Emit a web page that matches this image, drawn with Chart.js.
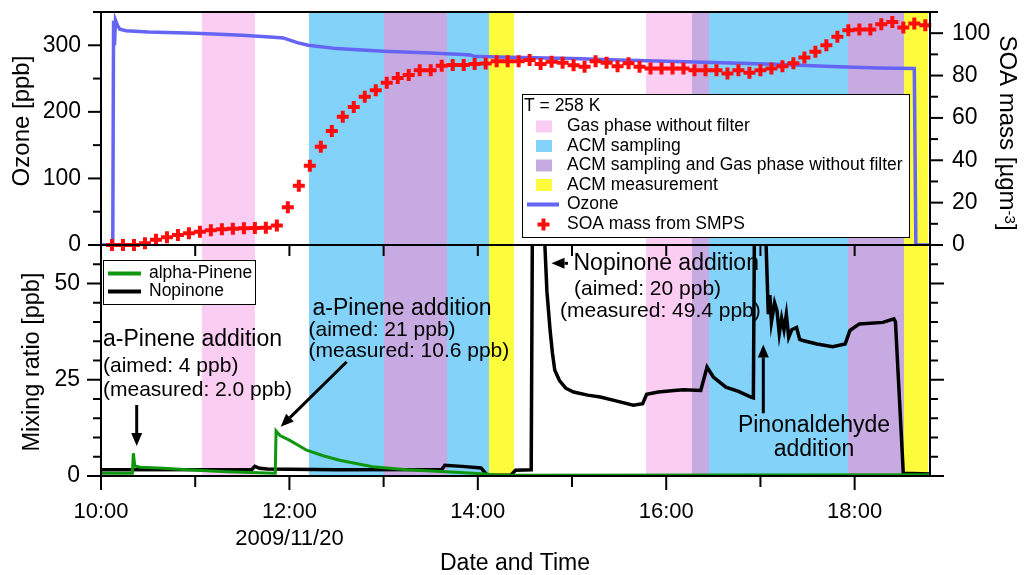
<!DOCTYPE html>
<html lang="en">
<head>
<meta charset="UTF-8">
<title>Ozone, SOA mass and mixing ratios - 2009/11/20</title>
<style>
  * { margin: 0; padding: 0; }
  body { background: #fff; width: 1030px; height: 575px; position: relative; overflow: hidden; }
  #top { position: absolute; left: 0; top: 0; }
  #bottom { position: absolute; left: 0; top: 240px; }
</style>
</head>
<body>
<canvas id="top" width="1030" height="260"></canvas>
<canvas id="bottom" width="1030" height="335"></canvas>
<script src="https://cdn.jsdelivr.net/npm/chart.js@4.4.0/dist/chart.umd.min.js"></script>
<script>
// shaded sampling periods
const bandStart = ['11:04.5', '12:12.5', '13:00', '13:40.5', '14:07', '15:47', '16:16.5', '16:27.5', '17:56', '18:31.5'];
const bandEnd   = ['11:38', '13:00', '13:40.5', '14:07', '14:23', '16:16.5', '16:27.5', '17:56', '18:31.5', '18:46.5'];
const bandKind  = ['gas', 'acm', 'both', 'acm', 'meas', 'gas', 'both', 'acm', 'both', 'meas'];

// ozone [ppb]
const ozoneTime = ['10:00', '10:07.5', '10:08', '10:08.6', '10:09.2', '10:10.5', '10:12', '10:16', '10:30', '11:00', '11:30', '11:50', '11:56',
  '12:05', '12:12', '12:30', '13:00', '13:30', '13:50', '13:55', '13:58', '14:00', '14:20', '15:00', '15:30', '16:00', '16:30',
  '17:14', '17:45', '18:15', '18:38', '18:39', '18:48'];
const ozoneVal = [0, 0, 337, 300, 338, 330, 324, 322, 320, 318, 315, 312, 311,
  304, 300, 295, 291, 288.5, 286, 285.5, 283, 283, 282, 280, 278, 276, 274,
  271, 268, 266, 265, 0, 0];

// SOA mass from SMPS [ugm-3]
const soaTime = ['10:07', '10:14', '10:21', '10:28', '10:35', '10:42', '10:49', '10:56', '11:03', '11:10', '11:17', '11:24', '11:31',
  '11:38', '11:45', '11:52', '11:59', '12:06', '12:13', '12:20', '12:27', '12:34', '12:41', '12:48', '12:55', '13:02', '13:09',
  '13:16', '13:23', '13:30', '13:37', '13:44', '13:51', '13:58', '14:05', '14:12', '14:19', '14:26', '14:33', '14:40', '14:47',
  '14:54', '15:01', '15:08', '15:15', '15:22', '15:29', '15:36', '15:43', '15:50', '15:57', '16:04', '16:11', '16:18', '16:25',
  '16:32', '16:39', '16:46', '16:53', '17:00', '17:07', '17:14', '17:21', '17:28', '17:35', '17:42', '17:49', '17:56', '18:03',
  '18:10', '18:17', '18:24', '18:31', '18:38', '18:45'];
const soaVal = [0, 0, 0, 0.8, 2.5, 3.6, 4.7, 5.5, 6.3, 7.0, 7.4, 7.7, 7.9,
  8.0, 8.2, 9.2, 17.8, 28, 37.4, 46.4, 53.8, 60.5, 65.2, 70, 73.1, 76.6, 78.9,
  80.2, 82.5, 82.5, 84.6, 85, 85, 85.4, 85.7, 86.8, 86.8, 86.8, 87.3, 85.4, 86.5,
  86, 84.9, 84.1, 86.8, 86, 84.4, 85.8, 84.1, 83.3, 83.3, 83.3, 83.3, 82.5, 82.5,
  82.5, 81, 82.5, 81.3, 82.5, 83.3, 84.4, 85.8, 88.5, 91.2, 94.3, 98.3, 101.4, 101.7,
  101.7, 104.2, 105.3, 102.7, 104.6, 103.8];

// alpha-pinene [ppb]
const pineneTime = ['10:00', '10:20', '10:20.6', '10:21.5', '10:25', '10:40', '10:55', '11:20', '11:45', '11:51', '11:51.5', '11:54',
  '12:00', '12:11', '12:22', '12:32', '12:53', '13:15', '13:46', '14:05', '14:12', '18:48'];
const pineneVal = [0.7, 0.7, 5.9, 2.6, 2.3, 2.0, 1.6, 1.1, 0.8, 0.7, 11.7, 10.5,
  9.3, 6.7, 5.2, 4.1, 2.4, 1.6, 0.95, 0.5, 0.2, 0.3];

// nopinone [ppb]
const nopTime = ['10:00', '11:36', '11:38', '11:41', '11:46', '12:30', '13:37', '13:39', '13:50', '14:02', '14:06', '14:21', '14:24',
  '14:34', '14:35', '14:41', '14:42.5', '14:44', '14:46', '14:47.5', '14:49', '14:52', '14:56', '15:01', '15:10', '15:18', '15:28',
  '15:39', '15:45', '15:47.5', '15:55', '16:05', '16:11', '16:22', '16:26', '16:30', '16:38', '16:46', '16:54', '16:55.5', '16:56.5',
  '17:02', '17:04', '17:05', '17:06', '17:07', '17:09', '17:10.5', '17:12', '17:13.5', '17:15', '17:16.5', '17:18', '17:20', '17:23',
  '17:25', '17:27', '17:36', '17:46', '17:54', '17:57', '18:03', '18:18', '18:25', '18:26', '18:31', '18:48'];
const nopVal = [1.6, 1.7, 2.5, 2.0, 1.8, 1.6, 1.7, 2.8, 2.5, 2.1, 0.2, 0.2, 1.5,
  1.6, 85, 80, 62, 48, 38, 32, 27.5, 24.8, 22.8, 21.8, 21, 20.5, 19.5,
  18.4, 18.8, 21.2, 21.8, 22.2, 22.4, 22.2, 28.3, 25.7, 23.1, 22, 20.5, 20.3, 85,
  80, 55, 42, 47, 40, 45, 43, 37, 41, 38, 42, 36, 38, 38.6,
  35.5, 35.2, 34.3, 33.6, 34.3, 37.8, 39.5, 39.9, 40.8, 40, 0.7, 0.5];

const legendNames = ['Gas phase without filter', 'ACM sampling', 'ACM sampling and Gas phase without filter', 'ACM measurement'];
const legendKinds = ['gas', 'acm', 'both', 'meas'];
const dateLabel = '2009/11/20';

const bandColor = { gas: '#FCCDF2', acm: '#82D2FA', both: '#C8AAE2', meas: '#FCFC3C' };
const OZONE = '#6565F5', SOA = '#FF0C0C', GREEN = '#0E960E';
const FONT = '"Liberation Sans", Arial, sans-serif';

Chart.defaults.font.family = FONT;
Chart.defaults.color = '#000';

const toH = s => { const p = s.split(':'); return +p[0] + parseFloat(p[1]) / 60; };
const pts = (t, v) => t.map((s, i) => ({ x: toH(s), y: v[i] }));

// keep axis boxes at fixed sizes, no label overhang padding
const fixY = w => s => { s.width = w; s.paddingTop = 0; s.paddingBottom = 0; };
const fixX = h => s => { s.height = h; s.paddingLeft = 0; s.paddingRight = 0; };

function line(ctx, x1, y1, x2, y2) {
  ctx.beginPath(); ctx.moveTo(x1, y1); ctx.lineTo(x2, y2); ctx.stroke();
}
function text(ctx, str, x, y, size, align) {
  ctx.font = size + 'px ' + FONT;
  ctx.textAlign = align || 'left';
  ctx.textBaseline = 'middle';
  ctx.fillText(str, x, y);
}
function arrow(ctx, x1, y1, x2, y2) {
  const a = Math.atan2(y2 - y1, x2 - x1), hl = 13, hw = 5.5;
  const bx = x2 - hl * Math.cos(a), by = y2 - hl * Math.sin(a);
  line(ctx, x1, y1, bx, by);
  ctx.beginPath();
  ctx.moveTo(x2, y2);
  ctx.lineTo(bx + hw * Math.sin(a), by - hw * Math.cos(a));
  ctx.lineTo(bx - hw * Math.sin(a), by + hw * Math.cos(a));
  ctx.closePath(); ctx.fill();
}

const bandsPlugin = {
  id: 'bands',
  beforeDatasetsDraw(chart) {
    const { ctx, chartArea: a, scales: { x } } = chart;
    ctx.save();
    bandStart.forEach((s, i) => {
      const x1 = Math.round(x.getPixelForValue(toH(s)));
      const x2 = Math.round(x.getPixelForValue(toH(bandEnd[i])));
      ctx.fillStyle = bandColor[bandKind[i]];
      ctx.fillRect(x1, a.top, x2 - x1, a.bottom - a.top);
    });
    ctx.restore();
  }
};

const baseOpts = {
  responsive: false,
  animation: false,
  events: [],
  plugins: { legend: { display: false }, tooltip: { enabled: false } },
  elements: { point: { radius: 0 }, line: { tension: 0 } }
};

// ---- upper panel: ozone and SOA mass
new Chart(document.getElementById('top'), {
  type: 'line',
  data: {
    datasets: [
      { data: pts(soaTime, soaVal), yAxisID: 'yS', showLine: false, pointStyle: 'cross',
        pointRadius: 6, borderColor: SOA, pointBorderWidth: 4, clip: false },
      { data: pts(ozoneTime, ozoneVal), yAxisID: 'yO', borderColor: OZONE, borderWidth: 3.5 }
    ]
  },
  options: {
    ...baseOpts,
    layout: { padding: { top: 12, bottom: 15, left: 0, right: 0 } },
    scales: {
      x: { type: 'linear', min: 10, max: 18.8, display: false },
      yO: {
        position: 'left', min: 0, max: 350,
        ticks: { stepSize: 50, autoSkip: false, padding: 7, font: { size: 23 }, callback: v => v % 100 === 0 ? v : '' },
        grid: { display: false, tickLength: 13 }, border: { display: false },
        afterFit: fixY(101)
      },
      yS: {
        position: 'right', min: 0, max: 110,
        ticks: { stepSize: 10, autoSkip: false, padding: 9, font: { size: 23 }, callback: v => v % 20 === 0 ? v : '' },
        grid: { display: false, tickLength: 13 }, border: { display: false },
        afterFit: fixY(100)
      }
    }
  },
  plugins: [bandsPlugin, {
    id: 'topFrame',
    afterDatasetsDraw(chart) {
      const { ctx, chartArea: a, scales: { yO, yS } } = chart;
      ctx.save();
      ctx.strokeStyle = '#000'; ctx.lineWidth = 2;
      ctx.strokeRect(a.left, a.top, a.right - a.left, a.bottom - a.top);
      for (let v = 0; v <= 350; v += 50) {
        const y = yO.getPixelForValue(v);
        line(ctx, a.left, y, a.left - (v % 100 ? 8 : 13), y);
      }
      for (let v = 0; v <= 110; v += 10) {
        const y = yS.getPixelForValue(v);
        line(ctx, a.right, y, a.right + (v % 20 ? 8 : 13), y);
      }
      ctx.restore();
    },
    afterDraw(chart) {
      const ctx = chart.ctx;
      ctx.save();
      ctx.fillStyle = '#000';
      // axis titles
      ctx.save();
      ctx.translate(28.5, 121); ctx.rotate(-Math.PI / 2);
      ctx.font = '24px ' + FONT; ctx.textAlign = 'center'; ctx.textBaseline = 'alphabetic';
      ctx.fillText('Ozone [ppb]', 0, 0);
      ctx.restore();

      ctx.save();
      ctx.translate(1000, 133); ctx.rotate(Math.PI / 2);
      ctx.textBaseline = 'alphabetic'; ctx.textAlign = 'left';
      const main = 'SOA mass [\u00b5gm', sup = '-3', end = ']';
      ctx.font = '24px ' + FONT; const w1 = ctx.measureText(main).width, w3 = ctx.measureText(end).width;
      ctx.font = '15px ' + FONT; const w2 = ctx.measureText(sup).width;
      let x0 = -(w1 + w2 + w3) / 2;
      ctx.font = '24px ' + FONT; ctx.fillText(main, x0, 0);
      ctx.font = '15px ' + FONT; ctx.fillText(sup, x0 + w1, -5);
      ctx.font = '24px ' + FONT; ctx.fillText(end, x0 + w1 + w2, 0);
      ctx.restore();

      // legend
      ctx.fillStyle = '#fff';
      ctx.fillRect(522, 94, 387, 143);
      ctx.strokeStyle = '#000'; ctx.lineWidth = 1;
      ctx.strokeRect(522.5, 94.5, 387, 143);
      ctx.fillStyle = '#000';
      text(ctx, 'T = 258 K', 524, 106.5, 17.5);
      legendNames.forEach((n, i) => {
        const y = 126.5 + i * 19.5;
        ctx.fillStyle = bandColor[legendKinds[i]];
        ctx.fillRect(536, y - 6, 16, 12);
        ctx.fillStyle = '#000';
        text(ctx, n, 567, y, 17.5);
      });
      ctx.strokeStyle = OZONE; ctx.lineWidth = 4;
      line(ctx, 527, 204.5, 559, 204.5);
      text(ctx, 'Ozone', 567, 204.5, 17.5);
      ctx.strokeStyle = SOA; ctx.lineWidth = 4;
      line(ctx, 537.5, 224.5, 549.5, 224.5);
      line(ctx, 543.5, 218.5, 543.5, 230.5);
      text(ctx, 'SOA mass from SMPS', 567, 224.5, 17.5);
      ctx.restore();
    }
  }]
});

// ---- lower panel: mixing ratios
new Chart(document.getElementById('bottom'), {
  type: 'line',
  data: {
    datasets: [
      { data: pts(pineneTime, pineneVal), borderColor: GREEN, borderWidth: 3 },
      { data: pts(nopTime, nopVal), borderColor: '#000', borderWidth: 3.5 }
    ]
  },
  options: {
    ...baseOpts,
    layout: { padding: { top: 5, bottom: 0, left: 0, right: 100 } },
    scales: {
      x: {
        type: 'linear', min: 10, max: 18.8,
        ticks: {
          stepSize: 1, autoSkip: false, includeBounds: false, maxRotation: 0, padding: 9, font: { size: 22 },
          callback: v => {
            if (!Number.isInteger(v) || v % 2) return '';
            return v === 12 ? [v + ':00', dateLabel] : v + ':00';
          }
        },
        grid: { display: false, tickLength: 14 }, border: { display: false },
        afterFit: fixX(99)
      },
      y: {
        position: 'left', min: 0, max: 60,
        ticks: { stepSize: 5, autoSkip: false, padding: 7, font: { size: 23 }, callback: v => v % 25 === 0 ? v : '' },
        grid: { display: false, tickLength: 14 }, border: { display: false },
        afterFit: fixY(101)
      }
    }
  },
  plugins: [bandsPlugin, {
    id: 'bottomFrame',
    afterDatasetsDraw(chart) {
      const { ctx, chartArea: a, scales: { x, y } } = chart;
      ctx.save();
      ctx.strokeStyle = '#000'; ctx.lineWidth = 2;
      ctx.strokeRect(a.left, a.top, a.right - a.left, a.bottom - a.top);
      for (let v = 0; v <= 60; v += 5) {
        const py = y.getPixelForValue(v), len = v % 25 ? 8 : 14;
        line(ctx, a.left, py, a.left - len, py);
        line(ctx, a.right, py, a.right + len, py);
      }
      for (let h = 10; h <= 18; h++) {
        const px = x.getPixelForValue(h);
        line(ctx, px, a.bottom, px, a.bottom + (h % 2 ? 11 : 14));
        if (h > 10) line(ctx, px, a.top, px, a.top + 11);
      }
      ctx.restore();
    },
    afterDraw(chart) {
      const ctx = chart.ctx;
      ctx.save();
      ctx.fillStyle = '#000'; ctx.strokeStyle = '#000';

      ctx.save();
      ctx.translate(38.5, 122); ctx.rotate(-Math.PI / 2);
      ctx.font = '23.5px ' + FONT; ctx.textAlign = 'center'; ctx.textBaseline = 'alphabetic';
      ctx.fillText('Mixing ratio [ppb]', 0, 0);
      ctx.restore();
      text(ctx, 'Date and Time', 515, 324, 23, 'center');

      // legend
      ctx.fillStyle = '#fff';
      ctx.fillRect(103, 20, 153, 45);
      ctx.lineWidth = 1;
      ctx.strokeRect(103.5, 20.5, 152, 44);
      ctx.fillStyle = '#000';
      ctx.lineWidth = 4;
      ctx.strokeStyle = GREEN; line(ctx, 108, 33.5, 141, 33.5);
      ctx.strokeStyle = '#000'; line(ctx, 108, 51.5, 141, 51.5);
      text(ctx, 'alpha-Pinene', 149, 33.5, 17.5);
      text(ctx, 'Nopinone', 149, 51.5, 17.5);

      // annotations
      ctx.lineWidth = 3;
      text(ctx, 'a-Pinene addition', 103, 100, 23);
      text(ctx, '(aimed: 4 ppb)', 103, 126.5, 21);
      text(ctx, '(measured: 2.0 ppb)', 103, 150, 21);
      arrow(ctx, 136.7, 165, 136.7, 206);

      text(ctx, 'a-Pinene addition', 312.5, 68.5, 23);
      text(ctx, '(aimed: 21 ppb)', 308.5, 90, 21);
      text(ctx, '(measured: 10.6 ppb)', 308.5, 111.5, 21);
      arrow(ctx, 346.7, 121.7, 280.7, 186.7);

      text(ctx, 'Nopinone addition', 573.5, 24, 23);
      text(ctx, '(aimed: 20 ppb)', 574, 49.5, 21);
      text(ctx, '(measured: 49.4 ppb)', 560, 71, 21);
      arrow(ctx, 568, 23.3, 551.5, 23.3);

      text(ctx, 'Pinonaldehyde', 814, 186, 23, 'center');
      text(ctx, 'addition', 814, 210, 23, 'center');
      arrow(ctx, 763.3, 173.3, 763.3, 104.5);
      ctx.restore();
    }
  }]
});
</script>
</body>
</html>
